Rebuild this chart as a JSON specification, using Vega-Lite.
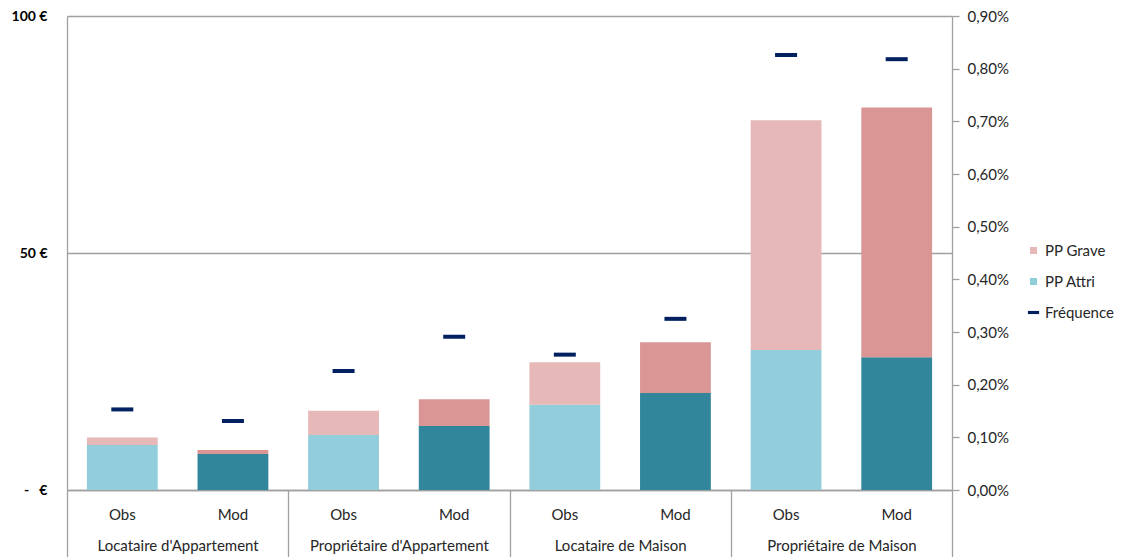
{
  "$schema": "https://vega.github.io/schema/vega-lite/v6.json",
  "width": 885,
  "height": 474,
  "autosize": "none",
  "padding": {"left": 67, "top": 16, "right": 169, "bottom": 67},
  "background": "white",
  "config": {
    "font": "Lato",
    "view": {"stroke": null},
    "axis": {"labelFont": "Lato", "labelColor": "#262626", "domainColor": "#A0A0A0", "tickColor": "#A0A0A0", "gridColor": "#A0A0A0", "domainWidth": 1.3, "gridWidth": 1.3}
  },
  "datasets": {
    "montants": [
      {"groupe": "Locataire d'Appartement", "type": "Obs", "composant": "PP Attri", "montant": 9.48},
      {"groupe": "Locataire d'Appartement", "type": "Obs", "composant": "PP Grave", "montant": 1.60},
      {"groupe": "Locataire d'Appartement", "type": "Mod", "composant": "PP Attri", "montant": 7.59},
      {"groupe": "Locataire d'Appartement", "type": "Mod", "composant": "PP Grave", "montant": 0.84},
      {"groupe": "Propriétaire d'Appartement", "type": "Obs", "composant": "PP Attri", "montant": 11.59},
      {"groupe": "Propriétaire d'Appartement", "type": "Obs", "composant": "PP Grave", "montant": 5.12},
      {"groupe": "Propriétaire d'Appartement", "type": "Mod", "composant": "PP Attri", "montant": 13.49},
      {"groupe": "Propriétaire d'Appartement", "type": "Mod", "composant": "PP Grave", "montant": 5.68},
      {"groupe": "Locataire de Maison", "type": "Obs", "composant": "PP Attri", "montant": 17.97},
      {"groupe": "Locataire de Maison", "type": "Obs", "composant": "PP Grave", "montant": 9.00},
      {"groupe": "Locataire de Maison", "type": "Mod", "composant": "PP Attri", "montant": 20.44},
      {"groupe": "Locataire de Maison", "type": "Mod", "composant": "PP Grave", "montant": 10.74},
      {"groupe": "Propriétaire de Maison", "type": "Obs", "composant": "PP Attri", "montant": 29.56},
      {"groupe": "Propriétaire de Maison", "type": "Obs", "composant": "PP Grave", "montant": 48.46},
      {"groupe": "Propriétaire de Maison", "type": "Mod", "composant": "PP Attri", "montant": 28.02},
      {"groupe": "Propriétaire de Maison", "type": "Mod", "composant": "PP Grave", "montant": 52.68}
    ],
    "frequences": [
      {"groupe": "Locataire d'Appartement", "type": "Obs", "frequence": 0.00153},
      {"groupe": "Locataire d'Appartement", "type": "Mod", "frequence": 0.00131},
      {"groupe": "Propriétaire d'Appartement", "type": "Obs", "frequence": 0.00226},
      {"groupe": "Propriétaire d'Appartement", "type": "Mod", "frequence": 0.00291},
      {"groupe": "Locataire de Maison", "type": "Obs", "frequence": 0.00257},
      {"groupe": "Locataire de Maison", "type": "Mod", "frequence": 0.00325},
      {"groupe": "Propriétaire de Maison", "type": "Obs", "frequence": 0.00826},
      {"groupe": "Propriétaire de Maison", "type": "Mod", "frequence": 0.00818}
    ]
  },
  "layer": [
    {
      "data": {"name": "montants"},
      "transform": [{"calculate": "datum.groupe + ' / ' + datum.type", "as": "cle"}],
      "mark": {"type": "bar"},
      "encoding": {
        "x": {
          "field": "cle",
          "type": "nominal",
          "sort": null,
          "scale": {"paddingInner": 0.36, "paddingOuter": 0.18},
          "axis": {
            "orient": "bottom",
            "title": null,
            "labelExpr": "split(datum.value, ' / ')[1]",
            "labelAngle": 0,
            "ticks": false,
            "grid": false,
            "labelPadding": 17,
            "labelFontSize": 15
          }
        },
        "y": {
          "field": "montant",
          "type": "quantitative",
          "stack": "zero",
          "scale": {"domain": [0, 100]},
          "axis": {
            "title": null,
            "values": [0, 50, 100],
            "labelExpr": "datum.value === 0 ? '-\u00a0\u00a0\u00a0€' : datum.value + ' €'",
            "labelFontWeight": "bold",
            "labelColor": "#000000",
            "labelFontSize": 14,
            "ticks": false,
            "grid": true,
            "labelPadding": 20
          }
        },
        "order": {"field": "composant", "sort": "ascending"},
        "color": {
          "condition": [
            {"test": "datum.type === 'Mod' && datum.composant === 'PP Attri'", "value": "#31869B"},
            {"test": "datum.type === 'Mod' && datum.composant === 'PP Grave'", "value": "#DA9694"}
          ],
          "field": "composant",
          "type": "nominal",
          "scale": {"domain": ["PP Grave", "PP Attri", "Fréquence"], "range": ["#E6B8B7", "#92CDDC", "#002060"]},
          "legend": {
            "title": null,
            "orient": "none",
            "legendX": 959,
            "legendY": 227,
            "symbolSize": 49,
            "symbolStrokeWidth": 0,
            "labelFontSize": 15,
            "labelColor": "#262626",
            "labelOffset": 4,
            "rowPadding": 15,
            "encode": {
              "symbols": {
                "update": {
                  "shape": {"signal": "datum.value === 'Fréquence' ? 'M-1.6,-0.45H1.6V0.45H-1.6Z' : 'square'"}
                }
              }
            }
          }
        }
      }
    },
    {
      "data": {"name": "frequences"},
      "mark": {"type": "tick", "orient": "horizontal", "size": 22, "thickness": 4, "opacity": 1},
      "encoding": {
        "x": {
          "field": "groupe",
          "type": "nominal",
          "sort": null,
          "scale": {"paddingInner": 0, "paddingOuter": 0},
          "axis": {
            "orient": "bottom",
            "title": null,
            "labelAngle": 0,
            "tickBand": "extent",
            "tickSize": 70,
            "tickWidth": 1.3,
            "domain": false,
            "grid": false,
            "labelPadding": -22,
            "labelFontSize": 15
          }
        },
        "xOffset": {
          "field": "type",
          "type": "nominal",
          "sort": ["Obs", "Mod"],
          "scale": {"paddingInner": 0.36, "paddingOuter": 0.18}
        },
        "y": {
          "field": "frequence",
          "type": "quantitative",
          "scale": {"domain": [0, 0.009]},
          "axis": {
            "orient": "right",
            "title": null,
            "values": [0, 0.001, 0.002, 0.003, 0.004, 0.005, 0.006, 0.007, 0.008, 0.009],
            "labelExpr": "replace(format(datum.value, '.2%'), '.', ',')",
            "grid": false,
            "tickSize": 7,
            "tickWidth": 1.3,
            "labelPadding": 8,
            "labelFontSize": 15
          }
        },
        "color": {"datum": "Fréquence", "type": "nominal"}
      }
    }
  ],
  "resolve": {"scale": {"x": "independent", "y": "independent"}}
}
